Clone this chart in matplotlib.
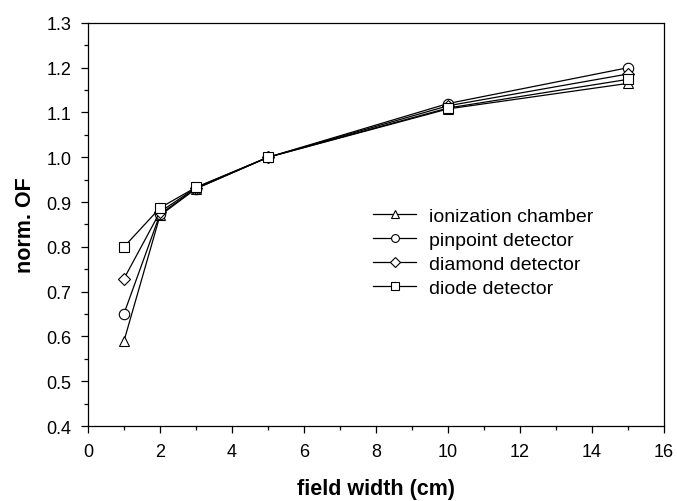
import matplotlib
matplotlib.use("Agg")
import matplotlib.pyplot as plt
from matplotlib.ticker import MultipleLocator, FormatStrFormatter

plt.rcParams['font.family'] = ['Liberation Sans', 'DejaVu Sans']

field_width = [1, 2, 3, 5, 10, 15]
ionization = [0.59, 0.870, 0.930, 1.0, 1.108, 1.165]
pinpoint = [0.651, 0.873, 0.930, 1.0, 1.120, 1.200]
diamond = [0.729, 0.878, 0.932, 1.0, 1.115, 1.186]
diode = [0.800, 0.887, 0.933, 1.0, 1.110, 1.174]

series = [
    ("ionization chamber", ionization, '^'),
    ("pinpoint detector", pinpoint, 'o'),
    ("diamond detector", diamond, 'D'),
    ("diode detector", diode, 's'),
]

fig = plt.figure(figsize=(6.77, 5.02), dpi=100)
ax = fig.add_axes([0.130, 0.1494, 0.851, 0.803])

for label, vals, m in series:
    ms = 7.5 if m != 'D' else 6.5
    ax.plot(field_width, vals, color='black', linewidth=0.9, marker=m,
            markersize=ms, markerfacecolor='white', markeredgecolor='black',
            markeredgewidth=0.8, label=label)

ax.set_xlim(0, 16)
ax.set_ylim(0.4, 1.3)
ax.xaxis.set_major_locator(MultipleLocator(2))
ax.xaxis.set_minor_locator(MultipleLocator(1))
ax.yaxis.set_major_locator(MultipleLocator(0.1))
ax.yaxis.set_minor_locator(MultipleLocator(0.05))
ax.yaxis.set_major_formatter(FormatStrFormatter('%.1f'))
ax.tick_params(which='major', direction='out', length=5, width=0.9, labelsize=13, pad=7)
ax.tick_params(which='minor', direction='out', length=3, width=0.9)
for s in ax.spines.values():
    s.set_linewidth(0.9)

ax.set_xlabel('field width (cm)', fontsize=15.5, fontweight='bold', labelpad=13.5)
ax.set_ylabel('norm. OF', fontsize=15.5, fontweight='bold', labelpad=7)

ax.legend(loc='upper left', bbox_to_anchor=(0.495, 0.542), frameon=False,
          fontsize=14, handlelength=2.2, handletextpad=0.65, labelspacing=0.32,
          borderaxespad=0, borderpad=0, markerscale=0.75)

fig.savefig('out.png', dpi=100)
